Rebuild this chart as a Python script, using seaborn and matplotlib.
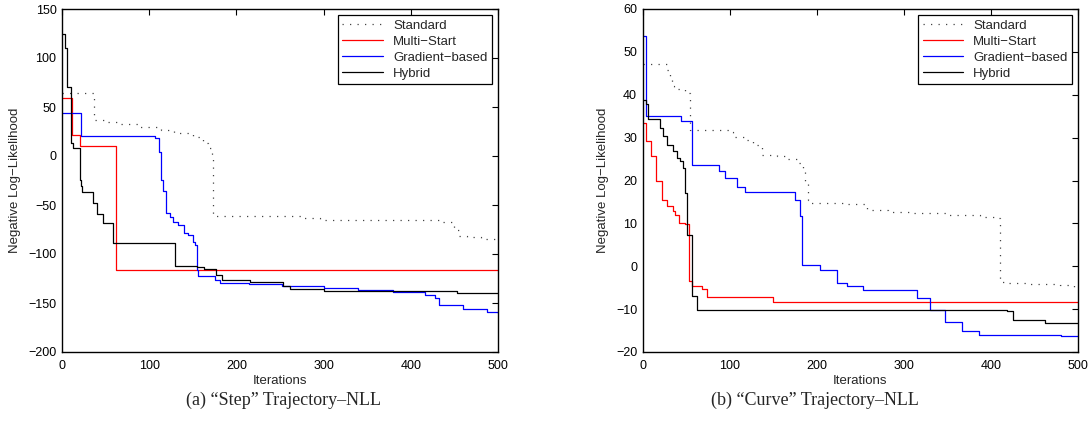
import matplotlib
matplotlib.use("Agg")
import matplotlib.pyplot as plt
import pandas as pd
import seaborn as sns

# "Step" trajectory (a): breakpoints of the best-so-far NLL curves
std_a_x = [0, 37, 50, 66, 89, 114, 129, 150, 162, 167, 172, 173, 275, 296, 433, 449, 455, 464, 480, 500]
std_a_y = [64, 36.7, 35, 32.6, 29.7, 26.5, 23.2, 19.7, 13, 8, 1, -61, -63, -65, -67, -75.5, -81.6, -83, -85, -86]

ms_a_x = [0, 11, 21, 62, 500]
ms_a_y = [59.5, 21.4, 10.5, -116.3, -116.3]

gb_a_x = [0, 21.4, 107, 111.6, 113, 114, 116, 119, 123.7, 127.5, 133, 140, 145, 150, 152.6, 154.4,
          156.3, 175.5, 181, 215, 252, 300, 340, 380, 416, 428, 432, 460, 487, 500]
gb_a_y = [43.6, 20.7, 18.4, 4.4, -10, -24.5, -36, -58.5, -62, -67, -70.5, -79, -81, -88, -91, -116,
          -122.4, -126.5, -130, -131, -132.5, -135, -137, -138.5, -141.6, -144.6, -152.5, -155.9, -159, -160]

hy_a_x = [0, 3, 6, 10.3, 13, 20.6, 22, 23, 36, 39.8, 46.6, 58.9, 129.6, 154.4, 163, 177, 184,
          215.6, 253.8, 261.5, 300, 452.6, 500]
hy_a_y = [125, 110, 70.7, 13, 8, -24.5, -31, -36.4, -48, -59, -68, -88.5, -112, -113.6, -115.6, -121, -127,
          -129, -132.7, -136, -137.4, -139.5, -139.5]

# "Curve" trajectory (b)
std_b_x = [0, 27.5, 31.3, 34, 36, 48.6, 54.3, 100, 104, 119, 127, 136.6, 154, 167, 178.7, 184.4, 186,
           190, 192, 230, 257, 281, 310, 349, 387, 406, 410, 418, 445, 479, 495, 500]
std_b_y = [47.1, 45.8, 43.5, 42, 41.3, 40.4, 31.8, 31.2, 30.1, 29.5, 28.3, 26, 25.8, 24.9, 24.1, 22.1, 19.4,
           15.5, 14.8, 14.5, 13.2, 12.6, 12.4, 12, 11.6, 11.3, -3.7, -3.85, -4.1, -4.4, -5, -5]

ms_b_x = [0, 3.8, 9.5, 15.3, 21.8, 27.5, 35.1, 37, 42, 48.5, 53.5, 56.2, 67.7, 74.2, 150, 500]
ms_b_y = [33.5, 29.1, 25.8, 19.8, 15.4, 14.1, 12.8, 12, 10.1, 9.9, -3.5, -4.6, -5.2, -7.1, -8.3, -8.3]

gb_b_x = [0, 3.8, 43.6, 56.2, 88, 94.5, 107.9, 117.5, 174.9, 180.6, 183.3, 203.6, 222.7, 234, 253.3,
          314.6, 329.8, 347, 366, 386.5, 480, 500]
gb_b_y = [53.6, 35.1, 33.8, 23.7, 22.1, 20.6, 18.6, 17.3, 15.4, 11.7, 0.2, -0.9, -3.85, -4.5, -5.6,
          -7.5, -10.2, -13, -15, -16, -16.3, -16.3]

hy_b_x = [0, 3.8, 6.5, 19.9, 23, 27.5, 35, 38.9, 42.7, 45.9, 48.6, 50.5, 56.2, 62.7, 417.9, 425, 462, 500]
hy_b_y = [38.8, 37.8, 34.4, 32.2, 30.3, 28.3, 26.9, 25.3, 24.6, 22.9, 17.1, 7.4, -7, -10.1, -10.4, -12.6,
          -13.2, -13.2]

labels = ["Standard", "Multi\u2212Start", "Gradient\u2212based", "Hybrid"]
colors = ["#444444", "#ff0000", "#0000ff", "#000000"]
styles = [(0, (1, 5)), "-", "-", "-"]

sns.set_style("white")
plt.rcParams["font.family"] = ["Liberation Sans", "DejaVu Sans"]
plt.rcParams["axes.unicode_minus"] = True

fig = plt.figure(figsize=(10.89, 4.42), dpi=100)
axA = fig.add_axes([62 / 1089, 1 - 352 / 442, 436 / 1089, 343 / 442])
axB = fig.add_axes([642.7 / 1089, 1 - 352 / 442, 435.6 / 1089, 343 / 442])


def drawPanel(ax, series, ylim, ystep):
    for (xs, ys), label, color, ls in zip(series, labels, colors, styles):
        df = pd.DataFrame({"x": xs, "y": ys})
        sns.lineplot(data=df, x="x", y="y", ax=ax, estimator=None, sort=False,
                     drawstyle="steps-post", color=color, linestyle=ls, linewidth=0.9,
                     label=label)
    ax.set_xlim(0, 500)
    ax.set_ylim(*ylim)
    ax.set_xticks(range(0, 501, 100))
    ax.set_yticks(range(ylim[0], ylim[1] + 1, ystep))
    ax.tick_params(direction="in", length=4, width=0.8, top=True, right=True,
                   labelsize=9, colors="black")
    ax.tick_params(axis="x", pad=6)
    ax.tick_params(axis="y", pad=4)
    for sp in ax.spines.values():
        sp.set_color("black")
        sp.set_linewidth(1.0)
    ax.set_xlabel("Iterations", fontsize=9.5, labelpad=2)
    ax.set_ylabel("Negative Log\u2212Likelihood", fontsize=9.5, labelpad=5)
    leg = ax.legend(loc="upper right", frameon=True, fancybox=False,
                    borderaxespad=0.45, handlelength=3.1, handletextpad=0.75,
                    borderpad=0.35, labelspacing=0.28,
                    prop={"family": ["Liberation Sans", "DejaVu Sans"], "size": 9.5})
    leg.get_frame().set_edgecolor("black")
    leg.get_frame().set_linewidth(0.9)
    leg.get_frame().set_alpha(1)


drawPanel(axA, [(std_a_x, std_a_y), (ms_a_x, ms_a_y), (gb_a_x, gb_a_y), (hy_a_x, hy_a_y)], (-200, 150), 50)
drawPanel(axB, [(std_b_x, std_b_y), (ms_b_x, ms_b_y), (gb_b_x, gb_b_y), (hy_b_x, hy_b_y)], (-20, 60), 10)

fig.text(283 / 1089, 1 - 400 / 442, "(a) \u201cStep\u201d Trajectory\u2013NLL", ha="center", va="center",
         fontsize=13, family=["Liberation Serif", "DejaVu Serif"])
fig.text(815 / 1089, 1 - 400 / 442, "(b) \u201cCurve\u201d Trajectory\u2013NLL", ha="center", va="center",
         fontsize=13, family=["Liberation Serif", "DejaVu Serif"])

fig.savefig("out.png", dpi=100)
